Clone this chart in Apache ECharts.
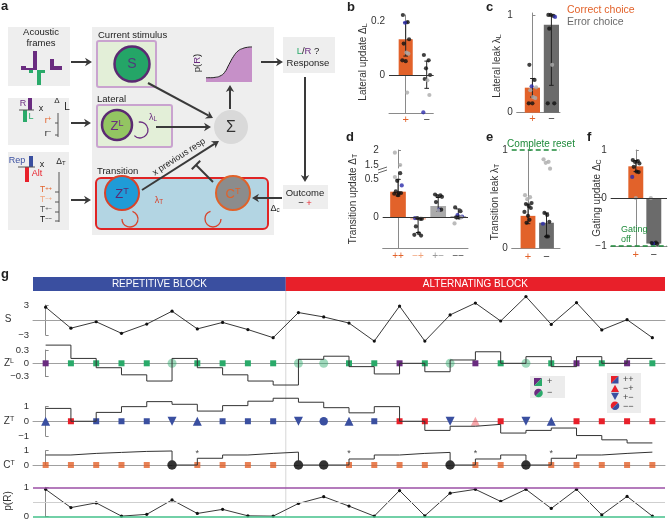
<!DOCTYPE html>
<html><head><meta charset="utf-8">
<script src="https://cdn.jsdelivr.net/npm/echarts@6/dist/echarts.min.js"></script>
<style>html,body{margin:0;padding:0;background:#fff}#c{width:668px;height:520px}</style>
</head><body><div id="c"></div>
<script>
// ================= DATA =================
// Panel g: trial-by-trial model variables
const blockNames = ['REPETITIVE BLOCK', 'ALTERNATING BLOCK'];
const blockStart = [0, 10];
const blockEnd = [9, 24];
const S = [2.57,-1.64,-0.35,-2.66,-0.82,1.76,-1.78,-0.48,-1.91,-3.54,1.49,0.61,-0.61,-4.22,2.78,-4.22,1.02,3.39,-0.2,4.69,-0.88,3.47,-1.98,0.06,-3.54];
const response = ['R','L','L','L','L','L','L','L','L','L','L','L','L','L','R','L','L','R','L','L','L','R','L','R','L'];
const correct  = [1,1,1,1,1,0,1,1,1,1,0,0,1,1,1,1,0,1,1,0,1,1,1,1,1];
const prevOutcomeFirst = 0;
const transition = ['Rep','Alt','Rep','Rep','Rep','Rep','Rep','Rep','Rep','Rep','Rep','Rep','Rep','Rep','Alt','Alt','Rep','Alt','Alt','Rep','Rep','Alt','Alt','Alt','Alt'];
const ZL = [0.41,0.11,-0.10,-0.26,-0.40,0.11,-0.10,-0.26,-0.40,-0.49,0.09,0.16,-0.075,-0.24,0,-0.19,0.075,0.26,0,0.15,-0.075,0.15,0,0.11];
const ZT = [0.87,0,0.6,0.99,1.33,1.15,0.69,1.06,1.36,1.56,1.29,0.92,0.57,0.99,0,-0.62,-0.34,-0.21,-0.8,-0.62,-0.46,-0.97,-1.26,-1.47];
const CT = [0.70,0.81,0.88,0.95,0.98,0,0.47,0.70,0.81,0.90,0,0,0.42,0.70,0.81,0.88,0,0.42,0.70,0,0.47,0.70,0.81,0.90];
const asteriskTrials = [6,12,17,20];
const pR = [0.93,0.31,0.47,0.02,0.08,0.57,0.11,0.25,0.03,0.02,0.45,0.68,0.36,0.02,0.89,0.03,0.80,0.93,0.52,0.93,0.28,0.93,0.06,0.69,0.02];

// Panel a inset sigmoid (schematic)
const sigX = [0,0.1,0.2,0.3,0.4,0.5,0.6,0.7,0.8,0.9,1];
const sigY = [0.11,0.11,0.12,0.15,0.24,0.45,0.66,0.8,0.86,0.89,0.9];

// Panel b
const bCats = ['+','\u2212'];
const bMeans = [0.134, 0.0];
const bLo = [0.071, -0.05];
const bHi = [0.196, 0.052];
const bDots = [[0,0.225,'k'],[0,0.198,'k'],[0,0.196,'b'],[0,0.134,'k'],[0,0.118,'k'],[0,0.084,'g'],[0,0.08,'g'],[0,0.055,'k'],[0,0.052,'k'],[0,-0.066,'g'],
               [1,0.075,'k'],[1,0.055,'k'],[1,0.025,'k'],[1,0.0,'k'],[1,-0.015,'k'],[1,-0.02,'g'],[1,-0.075,'g'],[1,-0.14,'b']];
// Panel c
const cCats = ['+','\u2212'];
const cMeans = [0.256, 0.9];
const cLo = [0.16, 0.28];
const cHi = [0.35, 1.0];
const cDots = [[0,0.49,'k'],[0,0.335,'k'],[0,0.27,'b'],[0,0.26,'g'],[0,0.23,'g'],[0,0.16,'g'],[0,0.15,'g'],[0,0.096,'k'],[0,0.096,'k'],
               [1,1.0,'k'],[1,0.99,'k'],[1,1.0,'k'],[1,0.98,'b'],[1,0.86,'k'],[1,0.49,'g'],[1,0.096,'k'],[1,0.096,'k']];
// Panel d
const dCats = ['++','\u2212+','+\u2212','\u2212\u2212'];
const dMeans = [0.337, -0.03, 0.149, 0.01];
const dLo = [0.28, -0.2, 0.08, -0.02];
const dHi = [0.5, -0.01, 0.26, 0.11];
const dDots = [[0,1.93,'g'],[0,1.5,'g'],[0,0.53,'g'],[0,0.58,'k'],[0,0.48,'k'],[0,0.42,'b'],[0,0.34,'k'],[0,0.32,'k'],[0,0.32,'k'],[0,0.31,'k'],[0,0.29,'k'],
               [1,-0.01,'b'],[1,-0.02,'k'],[1,-0.01,'k'],[1,-0.02,'k'],[1,-0.12,'k'],[1,-0.21,'k'],[1,-0.24,'k'],[1,-0.23,'k'],
               [2,0.30,'k'],[2,0.29,'k'],[2,0.28,'k'],[2,0.27,'k'],[2,0.2,'k'],[2,0.1,'b'],[2,0.1,'k'],[2,0.09,'g'],[2,0.09,'g'],
               [3,0.13,'k'],[3,0.08,'k'],[3,0.03,'b'],[3,0.01,'b'],[3,0.0,'k'],[3,0.0,'k'],[3,0.0,'g'],[3,-0.08,'g']];
// Panel e
const eCats = ['+','\u2212'];
const eMeans = [0.33, 0.26];
const eLo = [0.25, 0.12];
const eHi = [0.45, 0.36];
const eDots = [[0,0.54,'g'],[0,0.52,'g'],[0,0.5,'g'],[0,0.46,'k'],[0,0.45,'k'],[0,0.43,'k'],[0,0.41,'k'],[0,0.37,'k'],[0,0.33,'k'],[0,0.29,'k'],[0,0.26,'k'],
               [1,0.905,'g'],[1,0.88,'g'],[1,0.87,'g'],[1,0.81,'g'],[1,0.36,'k'],[1,0.34,'k'],[1,0.27,'k'],[1,0.25,'b'],[1,0.12,'k'],[1,0.12,'k']];
// Panel f
const fCats = ['+','\u2212'];
const fMeans = [0.66, -0.95];
const fLo = [0.55, -0.97];
const fHi = [0.78, -0.93];
const fDots = [[0,0.79,'k'],[0,0.77,'k'],[0,0.75,'k'],[0,0.72,'k'],[0,0.65,'k'],[0,0.55,'k'],[0,0.54,'k'],[0,0.44,'b'],[0,0.0,'g'],
               [1,0.0,'g'],[1,-0.93,'k'],[1,-0.95,'b'],[1,-0.96,'k'],[1,-0.94,'k']];

// ================= STYLE =================
const FONT = "'Liberation Sans', Arial, Helvetica, sans-serif";
const ORANGE = '#E2622A', DGRAY = '#6b6b6b', PURPLE = '#6a2c80', GREEN = '#2aaa6a';
const BLUE = '#3a4fa0', RED = '#e8202a', AX = '#8a8a8a';
const DOTC = {k:'#111111', g:'#ababab', b:'#2a2aaa'};
const JIT = [-0.2, 0.14, -0.05, 0.24, -0.14, 0.05, 0.19, -0.24, 0.0, 0.1, -0.1];
const minusFmt = v => (v < 0 ? '\u2212' + Math.abs(v) : String(v));

const grids = [], xAxes = [], yAxes = [], series = [], G = [];
function addGrid(g, xa, ya) {
  grids.push(Object.assign({outerBoundsMode:'none', containLabel:false}, g));
  const gi = grids.length - 1;
  xAxes.push(Object.assign({gridIndex: gi}, xa));
  yAxes.push(Object.assign({gridIndex: gi}, ya));
  return gi;
}
function yAx(min, max, ticks, fs) {
  return {type:'value', min, max, splitLine:{show:false},
    axisLine:{show:true, lineStyle:{color:AX, width:1}},
    axisTick:{show:true, inside:true, length:3, customValues:ticks, lineStyle:{color:AX}},
    axisLabel:{customValues:ticks, formatter:minusFmt, fontSize:fs||10, color:'#333', fontFamily:FONT, margin:4}};
}

// ---------- bar panels ----------
function barPanel(c) {
  const xmin = -(c.c0 - c.axisX) / c.step;
  const xmax = xmin + (c.right - c.axisX) / c.step;
  const gi = addGrid({left:c.axisX, top:c.top, width:c.right - c.axisX, height:c.bottom - c.top},
    {type:'value', min:xmin, max:xmax, show:c.showX !== false, splitLine:{show:false},
     axisLine:{show:true, onZero:false, lineStyle:{color:AX}}, axisTick:{show:false},
     axisLabel:{customValues:c.cats.map((_, i) => i), formatter: v => c.cats[Math.round(v)] || '',
       color: (v) => c.labelColors[Math.round(v)], fontSize:c.catFs || 11, fontFamily:FONT, margin:c.catMargin || 1}},
    yAx(c.ymin, c.ymax, c.ticks));
  if (c.means) {
    const w = c.barW;
    series.push({type:'custom', xAxisIndex:gi, yAxisIndex:gi, silent:true, z:2,
      data: c.means.map((v, i) => [i, v, i]),
      renderItem: (p, api) => {
        const x = api.value(0), v = api.value(1), ci = api.value(2);
        const a = api.coord([x - w / 2, Math.max(v, 0)]), b = api.coord([x + w / 2, Math.min(v, 0)]);
        return {type:'rect', shape:{x:a[0], y:a[1], width:b[0] - a[0], height:Math.max(b[1] - a[1], 1)}, style:{fill:c.barColors[ci]}};
      },
      markLine: c.markLines ? {silent:true, symbol:'none', label:{show:false}, data:c.markLines} : undefined});
    series.push({type:'custom', xAxisIndex:gi, yAxisIndex:gi, silent:true, z:3,
      data: c.lo.map((v, i) => [i, v, c.hi[i]]),
      renderItem: (p, api) => {
        const x = api.value(0), a = api.coord([x, api.value(1)]), b = api.coord([x, api.value(2)]), k = 2.3;
        const st = {stroke:'#222', lineWidth:1};
        return {type:'group', children:[
          {type:'line', shape:{x1:a[0], y1:a[1], x2:b[0], y2:b[1]}, style:st},
          {type:'line', shape:{x1:a[0] - k, y1:a[1], x2:a[0] + k, y2:a[1]}, style:st},
          {type:'line', shape:{x1:b[0] - k, y1:b[1], x2:b[0] + k, y2:b[1]}, style:st}]};
      }});
  }
  const cnt = {};
  const pts = c.dots.filter(d => c.filter ? c.filter(d[1]) : true).map(d => {
    cnt[d[0]] = (cnt[d[0]] || 0) + 1;
    const j = JIT[(cnt[d[0]] - 1) % JIT.length] * c.barW;
    return {value:[d[0] + j, d[1]], itemStyle:{color:DOTC[d[2]]}};
  });
  series.push({type:'scatter', xAxisIndex:gi, yAxisIndex:gi, silent:true, z:4, symbolSize:4.2, clip:false, data:pts});
  return gi;
}

barPanel({axisX:389, right:433.3, top:15, bottom:113, c0:405.7, step:21, ymin:-0.1425, ymax:0.225, ticks:[0,0.2],
  cats:bCats, labelColors:[ORANGE,'#333'], barColors:[ORANGE,DGRAY], barW:0.67, means:bMeans, lo:bLo, hi:bHi, dots:bDots,
  markLines:[{yAxis:0, lineStyle:{color:'#333', width:1, type:'solid'}}]});
barPanel({axisX:516.7, right:560, top:13, bottom:112.7, c0:532.4, step:19, ymin:0, ymax:1.02, ticks:[0,1],
  cats:cCats, labelColors:[ORANGE,'#333'], barColors:[ORANGE,DGRAY], barW:0.8, means:cMeans, lo:cLo, hi:cHi, dots:cDots});
barPanel({axisX:382.7, right:468, top:172, bottom:248, c0:398, step:20.1, ymin:-0.404, ymax:0.596, ticks:[0,0.5],
  cats:dCats, labelColors:[ORANGE,'#f0a27a','#999','#444'], barColors:[ORANGE,'#f3b9a3','#ababab','#555'], barW:0.78,
  means:dMeans, lo:dLo, hi:dHi, dots:dDots, filter:v => v < 1, catMargin:3, catFs:10,
  markLines:[{yAxis:0, lineStyle:{color:'#333', width:1, type:'solid'}}]});
barPanel({axisX:382.7, right:468, top:150, bottom:168, c0:398, step:20.1, ymin:1.395, ymax:2.024, ticks:[1.5,2],
  cats:dCats, labelColors:[ORANGE,ORANGE,ORANGE,ORANGE], barW:0.78, dots:dDots, filter:v => v >= 1, showX:false});
barPanel({axisX:511.7, right:560, top:150, bottom:248.3, c0:528, step:18.5, ymin:0, ymax:1, ticks:[0,1],
  cats:eCats, labelColors:[ORANGE,'#333'], barColors:[ORANGE,DGRAY], barW:0.8, means:eMeans, lo:eLo, hi:eHi, dots:eDots, catMargin:3,
  markLines:[{yAxis:1, lineStyle:{color:'#1e8a3a', width:1.5, type:[5,3]}}]});
barPanel({axisX:610.7, right:667, top:150, bottom:246, c0:635.8, step:18, ymin:-1, ymax:1, ticks:[-1,0,1],
  cats:fCats, labelColors:[ORANGE,'#333'], barColors:[ORANGE,DGRAY], barW:0.83, means:fMeans, lo:fLo, hi:fHi, dots:fDots, catMargin:3,
  markLines:[{yAxis:0, lineStyle:{color:'#333', width:1, type:'solid'}}, {yAxis:-1, lineStyle:{color:'#1e8a3a', width:1.5, type:[5,3]}}]});

// ---------- panel a inset p(R) ----------
{
  const gi = addGrid({left:206, top:43, width:46, height:39, show:true, backgroundColor:'#e4efd9', borderColor:'#9a9a9a', borderWidth:0.8},
    {type:'value', min:0, max:1, show:false}, {type:'value', min:0, max:1, show:false});
  series.push({type:'line', xAxisIndex:gi, yAxisIndex:gi, silent:true, smooth:true, symbol:'none',
    data: sigX.map((x, i) => [x, sigY[i]]), lineStyle:{color:'#222', width:1}, areaStyle:{color:'#c690c8', opacity:1}});
}

// ---------- panel g ----------
const GL = 33, GW = 632, XMIN = -0.5, XMAX = 24.5;
const trialIdx = S.map((_, i) => i);
function gxAxis(showLine) {
  return {type:'value', min:XMIN, max:XMAX, splitLine:{show:false}, axisTick:{show:false}, axisLabel:{show:false},
    axisLine:{show:showLine, onZero:true, lineStyle:{color:'#a0a0a0', width:1}}};
}
function stepData(arr) { return arr.map((v, i) => [i, v]).concat([[arr.length, arr[arr.length - 1]]]); }

// block bar
{
  const gi = addGrid({left:GL, top:277, width:GW, height:14}, {type:'value', min:XMIN, max:XMAX, show:false}, {type:'value', min:0, max:1, show:false});
  series.push({type:'custom', xAxisIndex:gi, yAxisIndex:gi, silent:true,
    data: blockNames.map((n, i) => [blockStart[i], blockEnd[i], i]),
    renderItem: (p, api) => {
      const i = api.value(2), a = api.coord([api.value(0) - 0.5, 1]), b = api.coord([api.value(1) + 0.5, 0]);
      return {type:'group', children:[
        {type:'rect', shape:{x:a[0], y:a[1], width:b[0] - a[0], height:b[1] - a[1]}, style:{fill: i === 0 ? BLUE : RED}},
        {type:'text', style:{x:(a[0] + b[0]) / 2, y:(a[1] + b[1]) / 2 + 0.5, text:blockNames[i], fill:'#fff', font:'10px ' + FONT,
          textAlign:'center', textVerticalAlign:'middle', align:'center', verticalAlign:'middle'}}]};
    }});
}
// block boundary line
{
  const gi = addGrid({left:GL, top:291, width:GW, height:226}, {type:'value', min:XMIN, max:XMAX, show:false}, {type:'value', min:0, max:1, show:false});
  series.push({type:'custom', xAxisIndex:gi, yAxisIndex:gi, silent:true, z:0,
    data: [[blockEnd[0] + 0.5]],
    renderItem: (p, api) => {
      const a = api.coord([api.value(0), 0]), b = api.coord([api.value(0), 1]);
      return {type:'line', shape:{x1:a[0], y1:a[1], x2:b[0], y2:b[1]}, style:{stroke:'#d6d6d6', lineWidth:1}};
    }});
}
// S row
{
  const gi = addGrid({left:GL, top:305, width:GW, height:30}, gxAxis(true), yAx(-3, 3, [-3, 3], 9.5));
  series.push({type:'line', xAxisIndex:gi, yAxisIndex:gi, silent:true, clip:false, data:S.map((v, i) => [i, v]),
    symbol:'circle', symbolSize:3.2, itemStyle:{color:'#111'}, lineStyle:{color:'#222', width:0.9}});
}
// Z^L row
{
  const gi = addGrid({left:GL, top:350, width:GW, height:26.6}, gxAxis(true), yAx(-0.3, 0.3, [-0.3, 0, 0.3], 9.5));
  series.push({type:'line', xAxisIndex:gi, yAxisIndex:gi, silent:true, clip:false, step:'end', symbol:'none',
    data:stepData(ZL), lineStyle:{color:'#333', width:1}});
  series.push({type:'scatter', xAxisIndex:gi, yAxisIndex:gi, silent:true, clip:false,
    data: trialIdx.map(i => ({value:[i, 0], symbol: correct[i] ? 'rect' : 'circle', symbolSize: correct[i] ? 6 : 9,
      itemStyle:{color: response[i] === 'R' ? PURPLE : GREEN, opacity: correct[i] ? 1 : 0.45}}))});
}
// Z^T row
{
  const gi = addGrid({left:GL, top:406.5, width:GW, height:29.5}, gxAxis(true), yAx(-1, 1, [-1, 0, 1], 9.5));
  series.push({type:'line', xAxisIndex:gi, yAxisIndex:gi, silent:true, clip:false, step:'end', symbol:'none',
    data:stepData(ZT), lineStyle:{color:'#333', width:1}});
  series.push({type:'scatter', xAxisIndex:gi, yAxisIndex:gi, silent:true, clip:false,
    data: trialIdx.map(i => {
      const prev = i === 0 ? prevOutcomeFirst : correct[i - 1], cur = correct[i];
      let sym = 'rect', size = 6, rot = 0;
      if (!prev && cur) { sym = 'triangle'; size = 9; }
      else if (prev && !cur) { sym = 'triangle'; size = 9; rot = 180; }
      else if (!prev && !cur) { sym = 'circle'; size = 8.5; }
      const alt = transition[i] === 'Alt';
      return {value:[i, 0], symbol:sym, symbolSize:size, symbolRotate:rot,
        itemStyle:{color: alt ? RED : BLUE, opacity: (alt && sym === 'triangle') ? 0.4 : 1}};
    })});
}
// C^T row
{
  const gi = addGrid({left:GL, top:450.7, width:GW, height:14.3}, gxAxis(true), yAx(0, 1, [0, 1], 9.5));
  series.push({type:'line', xAxisIndex:gi, yAxisIndex:gi, silent:true, clip:false, step:'end', symbol:'none',
    data:stepData(CT), lineStyle:{color:'#333', width:1}});
  series.push({type:'scatter', xAxisIndex:gi, yAxisIndex:gi, silent:true, clip:false,
    data: trialIdx.map(i => ({value:[i, 0], symbol: correct[i] ? 'rect' : 'circle', symbolSize: correct[i] ? 6 : 9.5,
      itemStyle:{color: correct[i] ? ORANGE : '#000'}}))});
  series.push({type:'scatter', xAxisIndex:gi, yAxisIndex:gi, silent:true, clip:false, symbolSize:1,
    itemStyle:{color:'rgba(0,0,0,0)'},
    label:{show:true, position:'inside', formatter:'*', fontSize:9, color:'#111', fontFamily:FONT},
    data: asteriskTrials.map(t => [t, 0.78])});
}
// p(R) row
{
  const gi = addGrid({left:GL, top:487.3, width:GW, height:29.4}, gxAxis(false), yAx(0, 1, [0, 1], 9.5));
  series.push({type:'line', xAxisIndex:gi, yAxisIndex:gi, silent:true, clip:false, data:pR.map((v, i) => [i, v]),
    symbol:'circle', symbolSize:3.2, itemStyle:{color:'#111'}, lineStyle:{color:'#222', width:0.9}, z:3,
    markLine:{silent:true, symbol:'none', label:{show:false}, data:[
      {yAxis:1, lineStyle:{color:'#9b4fa6', width:1.5, type:'solid'}},
      {yAxis:0.5, lineStyle:{color:'#cfcfcf', width:1, type:'solid'}},
      {yAxis:0, lineStyle:{color:'#43c08a', width:1.5, type:'solid'}}]}});
}

// ================= GRAPHIC (diagram, labels) =================
function txt(x, y, text, o) {
  o = o || {};
  const al = o.align || 'center', va = o.valign || 'middle';
  const st = {text, fill:o.color || '#222', font:(o.bold ? 'bold ' : '') + (o.size || 10) + 'px ' + FONT,
    textAlign:al, textVerticalAlign:va, align:al, verticalAlign:va};
  if (o.rich) st.rich = o.rich;
  return {type:'text', x, y, rotation:o.rot || 0, z:20, style:st};
}
function rich(size, color) {
  const s = size || 10, c = color || '#222';
  return {
    n:{fontSize:s, fontFamily:FONT, fill:c, color:c},
    sup:{fontSize:s * 0.7, fontFamily:FONT, fill:c, color:c, verticalAlign:'top', padding:[0, 0, s * 0.45, 0]},
    sub:{fontSize:s * 0.7, fontFamily:FONT, fill:c, color:c, verticalAlign:'bottom', padding:[s * 0.35, 0, 0, 0]},
    p:{fontSize:s, fontFamily:FONT, fill:PURPLE, color:PURPLE},
    g:{fontSize:s, fontFamily:FONT, fill:GREEN, color:GREEN},
    r:{fontSize:s, fontFamily:FONT, fill:RED, color:RED}
  };
}
function rect(x, y, w, h, fill, o) {
  o = o || {};
  return {type:'rect', z:o.z || 5, shape:{x, y, width:w, height:h, r:o.r || 0},
    style:{fill, stroke:o.stroke || null, lineWidth:o.lw || 0}};
}
function line(x1, y1, x2, y2, color, w, z) {
  return {type:'line', z:z || 8, shape:{x1, y1, x2, y2}, style:{stroke:color || '#333', lineWidth:w || 1}};
}
function circle(cx, cy, r, fill, stroke, lw) {
  return {type:'circle', z:9, shape:{cx, cy, r}, style:{fill, stroke, lineWidth:lw || 2}};
}
function arrow(x1, y1, x2, y2, color, w, hl) {
  color = color || '#3a3a3a'; w = w || 2; hl = hl || 7;
  const a = Math.atan2(y2 - y1, x2 - x1), hw = hl * 0.6;
  const bx = x2 - hl * Math.cos(a), by = y2 - hl * Math.sin(a);
  const nx = x2 - hl * 0.7 * Math.cos(a), ny = y2 - hl * 0.7 * Math.sin(a);
  return [line(x1, y1, nx, ny, color, w, 11),
    {type:'polygon', z:11, shape:{points:[[x2, y2], [bx + hw * Math.sin(a), by - hw * Math.cos(a)], [nx, ny], [bx - hw * Math.sin(a), by + hw * Math.cos(a)]]}, style:{fill:color}}];
}
function arc(cx, cy, r, s, e, color, w) {
  return {type:'arc', z:10, shape:{cx, cy, r, startAngle:s, endAngle:e}, style:{stroke:color, lineWidth:w || 1.5, fill:null}};
}
function tri(cx, cy, s, up, color) {
  const h = s * 0.9;
  const pts = up ? [[cx, cy - h / 2], [cx + s / 2, cy + h / 2], [cx - s / 2, cy + h / 2]] : [[cx, cy + h / 2], [cx + s / 2, cy - h / 2], [cx - s / 2, cy - h / 2]];
  return {type:'polygon', z:12, shape:{points:pts}, style:{fill:color}};
}
function halfSquare(x, y, s, c1, c2) {
  return [{type:'polygon', z:12, shape:{points:[[x, y], [x + s, y], [x, y + s]]}, style:{fill:c1}},
          {type:'polygon', z:12, shape:{points:[[x + s, y], [x + s, y + s], [x, y + s]]}, style:{fill:c2}}];
}
function halfCircle(cx, cy, r, c1, c2) {
  return [{type:'sector', z:12, shape:{cx, cy, r, startAngle:Math.PI * 0.75, endAngle:Math.PI * 1.75}, style:{fill:c1}},
          {type:'sector', z:12, shape:{cx, cy, r, startAngle:-Math.PI * 0.25, endAngle:Math.PI * 0.75}, style:{fill:c2}}];
}
const LG = '#eeeeee';
// panel letters
G.push(txt(1, 6, 'a', {bold:true, size:13, align:'left'}));
G.push(txt(347, 7, 'b', {bold:true, size:13, align:'left'}));
G.push(txt(486, 7, 'c', {bold:true, size:13, align:'left'}));
G.push(txt(346, 137, 'd', {bold:true, size:13, align:'left'}));
G.push(txt(486, 137, 'e', {bold:true, size:13, align:'left'}));
G.push(txt(587, 137, 'f', {bold:true, size:13, align:'left'}));
G.push(txt(1, 274, 'g', {bold:true, size:13, align:'left'}));
// background boxes
G.push(rect(8, 27, 62, 59, LG, {z:1}), rect(8, 98, 61, 47, LG, {z:1}), rect(8, 152, 61, 78, LG, {z:1}),
       rect(92, 27, 182, 208, LG, {z:1}), rect(283, 37, 52, 36, LG, {z:1}), rect(283, 185, 45, 24, LG, {z:1}));
// acoustic frames
G.push(txt(41, 32, 'Acoustic', {size:9.5}), txt(41, 43, 'frames', {size:9.5}));
G.push(rect(21, 66, 5, 4, PURPLE), rect(33, 51, 4, 19, PURPLE), rect(50, 59, 4, 11, PURPLE), rect(54, 66, 8, 4, PURPLE), rect(26, 68, 7, 2, PURPLE),
       rect(29, 70, 4, 3, GREEN), rect(37, 70, 4, 15, GREEN), rect(41, 70, 4, 3, GREEN));
// lateral input
G.push(rect(28, 98, 4, 12, PURPLE), rect(23, 110, 4, 12, GREEN), line(19, 110, 34, 110, '#555', 1),
  txt(23, 104, 'R', {size:9, color:PURPLE}), txt(31, 117, 'L', {size:9, color:GREEN}), txt(41, 109, 'x', {size:9}),
  txt(57, 101, '\u0394', {size:8}), txt(67, 107, 'L', {size:10}),
  line(58, 113, 58, 137, '#555', 1), line(55, 123, 58, 123, '#555', 1), line(55, 135, 58, 135, '#555', 1),
  txt(48, 121, '{n|r}{sup|+}', {rich:rich(9, ORANGE)}), txt(48, 134, '{n|r}{sup|\u2212}', {rich:rich(9, '#222')}));
// transition input
G.push(txt(17, 161, 'Rep', {size:9, color:BLUE}), rect(29, 156, 4, 11, BLUE), line(18, 167, 35, 167, '#555', 1),
  rect(25, 167, 4, 15, RED), txt(37, 174, 'Alt', {size:9, color:RED}), txt(42, 165, 'x', {size:9}),
  txt(61, 162, '{n|\u0394}{sub|T}', {rich:rich(8.5, '#222')}),
  line(59, 172, 59, 222, '#555', 1), line(55, 192, 59, 192, '#555', 1), line(55, 202, 59, 202, '#555', 1),
  line(55, 212, 59, 212, '#555', 1), line(55, 221, 59, 221, '#555', 1),
  txt(46, 190, '{n|T}{sup|++}', {rich:rich(8.5, ORANGE)}), txt(46, 200, '{n|T}{sup|\u2212+}', {rich:rich(8.5, '#f0a27a')}),
  txt(46, 210, '{n|T}{sup|+\u2212}', {rich:rich(8.5, '#555')}), txt(46, 220, '{n|T}{sup|\u2212\u2212}', {rich:rich(8.5, '#111')}));
G.push(...arrow(71, 62, 92, 62), ...arrow(71, 123, 91, 123), ...arrow(71, 200, 91, 200));
// current stimulus
G.push(txt(98, 35, 'Current stimulus', {size:9.5, align:'left'}),
  rect(97, 41, 59, 46, '#e3efd8', {stroke:'#c9a3cf', lw:2, r:2, z:3}),
  circle(132, 64, 17.5, '#24a567', '#5b2a72', 2.5), txt(132, 64, 'S', {size:14, color:'#4d3d7a'}));
// lateral
G.push(txt(97, 99, 'Lateral', {size:9.5, align:'left'}),
  rect(97, 105, 75, 42, '#e3efd8', {stroke:'#c9a3cf', lw:2, r:2, z:3}),
  circle(117, 125, 15, '#93c562', '#5b2a72', 2.5), txt(117, 126, '{n|Z}{sup|L}', {rich:rich(13, PURPLE)}),
  arc(140, 130, 8, -Math.PI * 0.55, Math.PI * 0.75, PURPLE, 1.3),
  txt(153, 118, '{n|\u03bb}{sub|L}', {rich:rich(9, PURPLE)}));
G.push(...arrow(156, 127, 211, 127));
// sigma
G.push(circle(231, 127, 17, '#d9d9d9', null, 0), txt(231, 128, '\u03a3', {size:16, color:'#333'}));
G.push(...arrow(148, 83, 213, 118), ...arrow(230, 109, 230, 85), ...arrow(261, 62, 283, 62));
G.push(txt(197, 63, '{n|p(}{p|R}{n|)}', {rot:Math.PI / 2, rich:rich(9.5, '#222')}));
// response / outcome
G.push(txt(308, 51, '{g|L}{n|/}{p|R}{n| ?}', {rich:rich(9.5, '#222')}), txt(308, 63, 'Response', {size:9.5}));
G.push(...arrow(305, 77, 305, 182));
G.push(txt(305, 193, 'Outcome', {size:9.5}), txt(305, 203, '{n|\u2212 }{r|+}', {rich:rich(9.5, '#222')}));
G.push(...arrow(282, 198, 252, 198), txt(275, 209, '{n|\u0394}{sub|c}', {rich:rich(9, '#222')}));
// transition
G.push(txt(97, 171, 'Transition', {size:9.5, align:'left'}),
  rect(96, 178, 172, 51, '#b3d5e3', {stroke:'#e02424', lw:2, r:5, z:3}),
  circle(122, 193, 17, '#1f9bd7', '#d8432b', 2), txt(122, 194, '{n|Z}{sup|T}', {rich:rich(13, '#5b2a72')}),
  circle(233, 193, 17, '#8c8c8c', '#e0622a', 2), txt(233, 194, '{n|C}{sup|T}', {rich:rich(13, '#e0622a')}),
  arc(130, 219, 8, -Math.PI * 0.4, Math.PI * 1.0, '#d8432b', 1.3), txt(159, 201, '{n|\u03bb}{sub|T}', {rich:rich(9, '#d8432b')}),
  arc(213, 219, 8, 0, Math.PI * 1.4, '#d8432b', 1.3));
G.push(...arrow(142, 190, 219, 141));
G.push(txt(179, 157, 'x previous resp', {size:9, rot:0.575}));
G.push(line(213, 182, 196, 165, '#3a3a3a', 2, 11), line(200.2, 160.8, 191.8, 169.2, '#3a3a3a', 2, 11));
// y-axis titles b-f
G.push(txt(363, 62, '{n|Lateral update \u0394}{sub|L}', {rot:Math.PI / 2, rich:rich(10, '#333')}));
G.push(txt(497, 66, '{n|Lateral leak \u03bb}{sub|L}', {rot:Math.PI / 2, rich:rich(10, '#333')}));
G.push(txt(353, 199, '{n|Transition update \u0394}{sub|T}', {rot:Math.PI / 2, rich:rich(10, '#333')}));
G.push(txt(495, 202, '{n|Transition leak \u03bb}{sub|T}', {rot:Math.PI / 2, rich:rich(10, '#333')}));
G.push(txt(597, 198, '{n|Gating update \u0394}{sub|C}', {rot:Math.PI / 2, rich:rich(10, '#333')}));
// legend c
G.push(txt(567, 10, 'Correct choice', {size:10.5, color:ORANGE, align:'left'}), txt(567, 22, 'Error choice', {size:10.5, color:DGRAY, align:'left'}));
// e/f annotations
G.push(txt(541, 144, 'Complete reset', {size:10, color:'#1e8a3a'}));
G.push(txt(621, 230, 'Gating', {size:9, color:'#1e8a3a', align:'left'}), txt(621, 240, 'off', {size:9, color:'#1e8a3a', align:'left'}));
// d axis break
G.push(rect(379, 168.5, 8, 3.5, '#fff', {z:15}), line(378, 170, 387, 167, '#666', 1, 16), line(378, 173, 387, 170, '#666', 1, 16));
// g row labels
G.push(txt(8, 319, 'S', {size:10, color:'#333'}), txt(9, 363, '{n|Z}{sup|L}', {rich:rich(10, '#333')}),
  txt(9, 421, '{n|Z}{sup|T}', {rich:rich(10, '#333')}), txt(9, 465, '{n|C}{sup|T}', {rich:rich(10, '#333')}),
  txt(8, 501, 'p(R)', {size:10, color:'#333', rot:Math.PI / 2}));
// g legends
G.push(rect(530, 376, 35, 22, '#ececec', {z:10}), ...halfSquare(534, 378, 8, PURPLE, GREEN), ...halfCircle(538.5, 393, 4.3, PURPLE, GREEN),
  txt(547, 382, '+', {size:9, align:'left', color:'#444'}), txt(547, 393, '\u2212', {size:9, align:'left', color:'#444'}));
G.push(rect(607, 373, 34, 40, '#ececec', {z:10}), ...halfSquare(611, 376, 7.5, RED, BLUE),
  tri(615, 388.3, 8, true, RED), tri(615, 396.3, 8, false, BLUE), ...halfCircle(615, 405.7, 4.3, RED, BLUE),
  txt(623, 379.5, '++', {size:9, align:'left', color:'#444'}), txt(623, 389, '\u2212+', {size:9, align:'left', color:'#444'}),
  txt(623, 397.5, '+\u2212', {size:9, align:'left', color:'#444'}), txt(623, 406.5, '\u2212\u2212', {size:9, align:'left', color:'#444'}));

const chart = echarts.init(document.getElementById('c'), null, {renderer:'canvas', width:668, height:520});
chart.setOption({
  animation:false, backgroundColor:'#fff', textStyle:{fontFamily:FONT},
  grid:grids, xAxis:xAxes, yAxis:yAxes, series:series, graphic:{elements:G}
});
</script></body></html>
